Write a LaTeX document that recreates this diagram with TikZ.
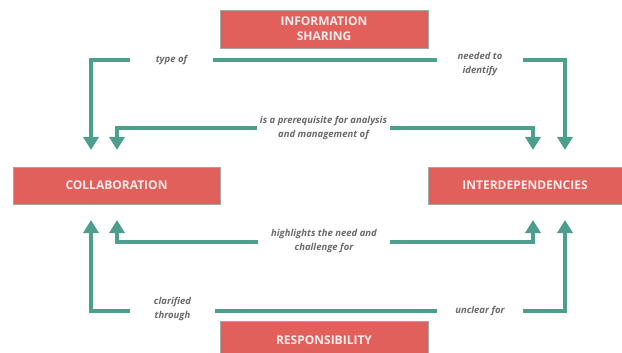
\documentclass[tikz,border=0pt]{standalone}
\usepackage{fontspec}
\setmainfont{Open Sans}
\usepackage{xcolor}
\usepackage{tikz}
\usetikzlibrary{arrows.meta}

\definecolor{boxred}{HTML}{E1605B}
\definecolor{linkteal}{HTML}{4C9F8C}
\definecolor{labelgray}{HTML}{6A6A6A}

\begin{document}
\begin{tikzpicture}[x=1pt, y=-1pt]
    % Define the styles for the boxes and connectors
    \tikzstyle{box} = [rectangle, draw=gray!70, fill=boxred, text=white!88!boxred, font=\bfseries\fontsize{12}{15}\selectfont, align=center, minimum width=208pt, minimum height=38pt, inner sep=0pt]
    \tikzstyle{linklabel} = [font=\bfseries\itshape\fontsize{9.5}{14}\selectfont, text=labelgray, align=center, inner sep=0pt]
    \tikzstyle{link} = [draw=linkteal, line width=4pt]
    \tikzstyle{linkarrow} = [link, -{Triangle[length=13pt, width=15pt]}]

    % Frame of the picture
    \useasboundingbox (0,0) rectangle (622,353);
    \clip (0,0) rectangle (622,353);

    % Place the boxes
    \node [box] (infoshare) at (324,29) {INFORMATION\\SHARING};
    \node [box, minimum width=207pt, minimum height=37pt] (collab) at (116.5,185.5) {COLLABORATION};
    \node [box, minimum width=194pt, minimum height=37pt] (interdep) at (525,185.5) {INTERDEPENDENCIES};
    \node [box] (respons) at (324,340) {RESPONSIBILITY};

    % Place the connector labels
    \node [linklabel, minimum width=83pt] (typeof) at (171.5,60) {type of};
    \node [linklabel, minimum width=86pt] (needed) at (480,64) {needed to\\identify};
    \node [linklabel, minimum width=133pt] (prereq) at (323.5,128) {is a prerequisite for analysis\\and management of};
    \node [linklabel, minimum width=132pt] (highlights) at (324,241.5) {highlights the need and\\challenge for};
    \node [linklabel, minimum width=85pt] (clarified) at (172.5,309.5) {clarified\\through};
    \node [linklabel, minimum width=86pt] (unclear) at (480,311) {unclear for};

    % Arrow ends above and below the side boxes
    \coordinate (collabtop1) at (91,150);
    \coordinate (collabtop2) at (117,150);
    \coordinate (interdeptop1) at (533,150);
    \coordinate (interdeptop2) at (565,150);
    \coordinate (collabbot1) at (91,220);
    \coordinate (collabbot2) at (117,220);
    \coordinate (interdepbot1) at (533,220);
    \coordinate (interdepbot2) at (565,220);

    % Connect the labels with the boxes
    \path [link] (typeof.east) -- (typeof.east -| needed.west);
    \path [linkarrow] (typeof.west) -| (collabtop1);
    \path [linkarrow] (needed.east |- typeof.east) -| (interdeptop2);
    \path [linkarrow] (prereq.west) -| (collabtop2);
    \path [linkarrow] (prereq.east) -| (interdeptop1);
    \path [linkarrow] (highlights.west) -| (collabbot2);
    \path [linkarrow] (highlights.east) -| (interdepbot1);
    \path [link] (clarified.east |- unclear.west) -- (unclear.west);
    \path [linkarrow] (clarified.west |- unclear.west) -| (collabbot1);
    \path [linkarrow] (unclear.east) -| (interdepbot2);
\end{tikzpicture}
\end{document}
